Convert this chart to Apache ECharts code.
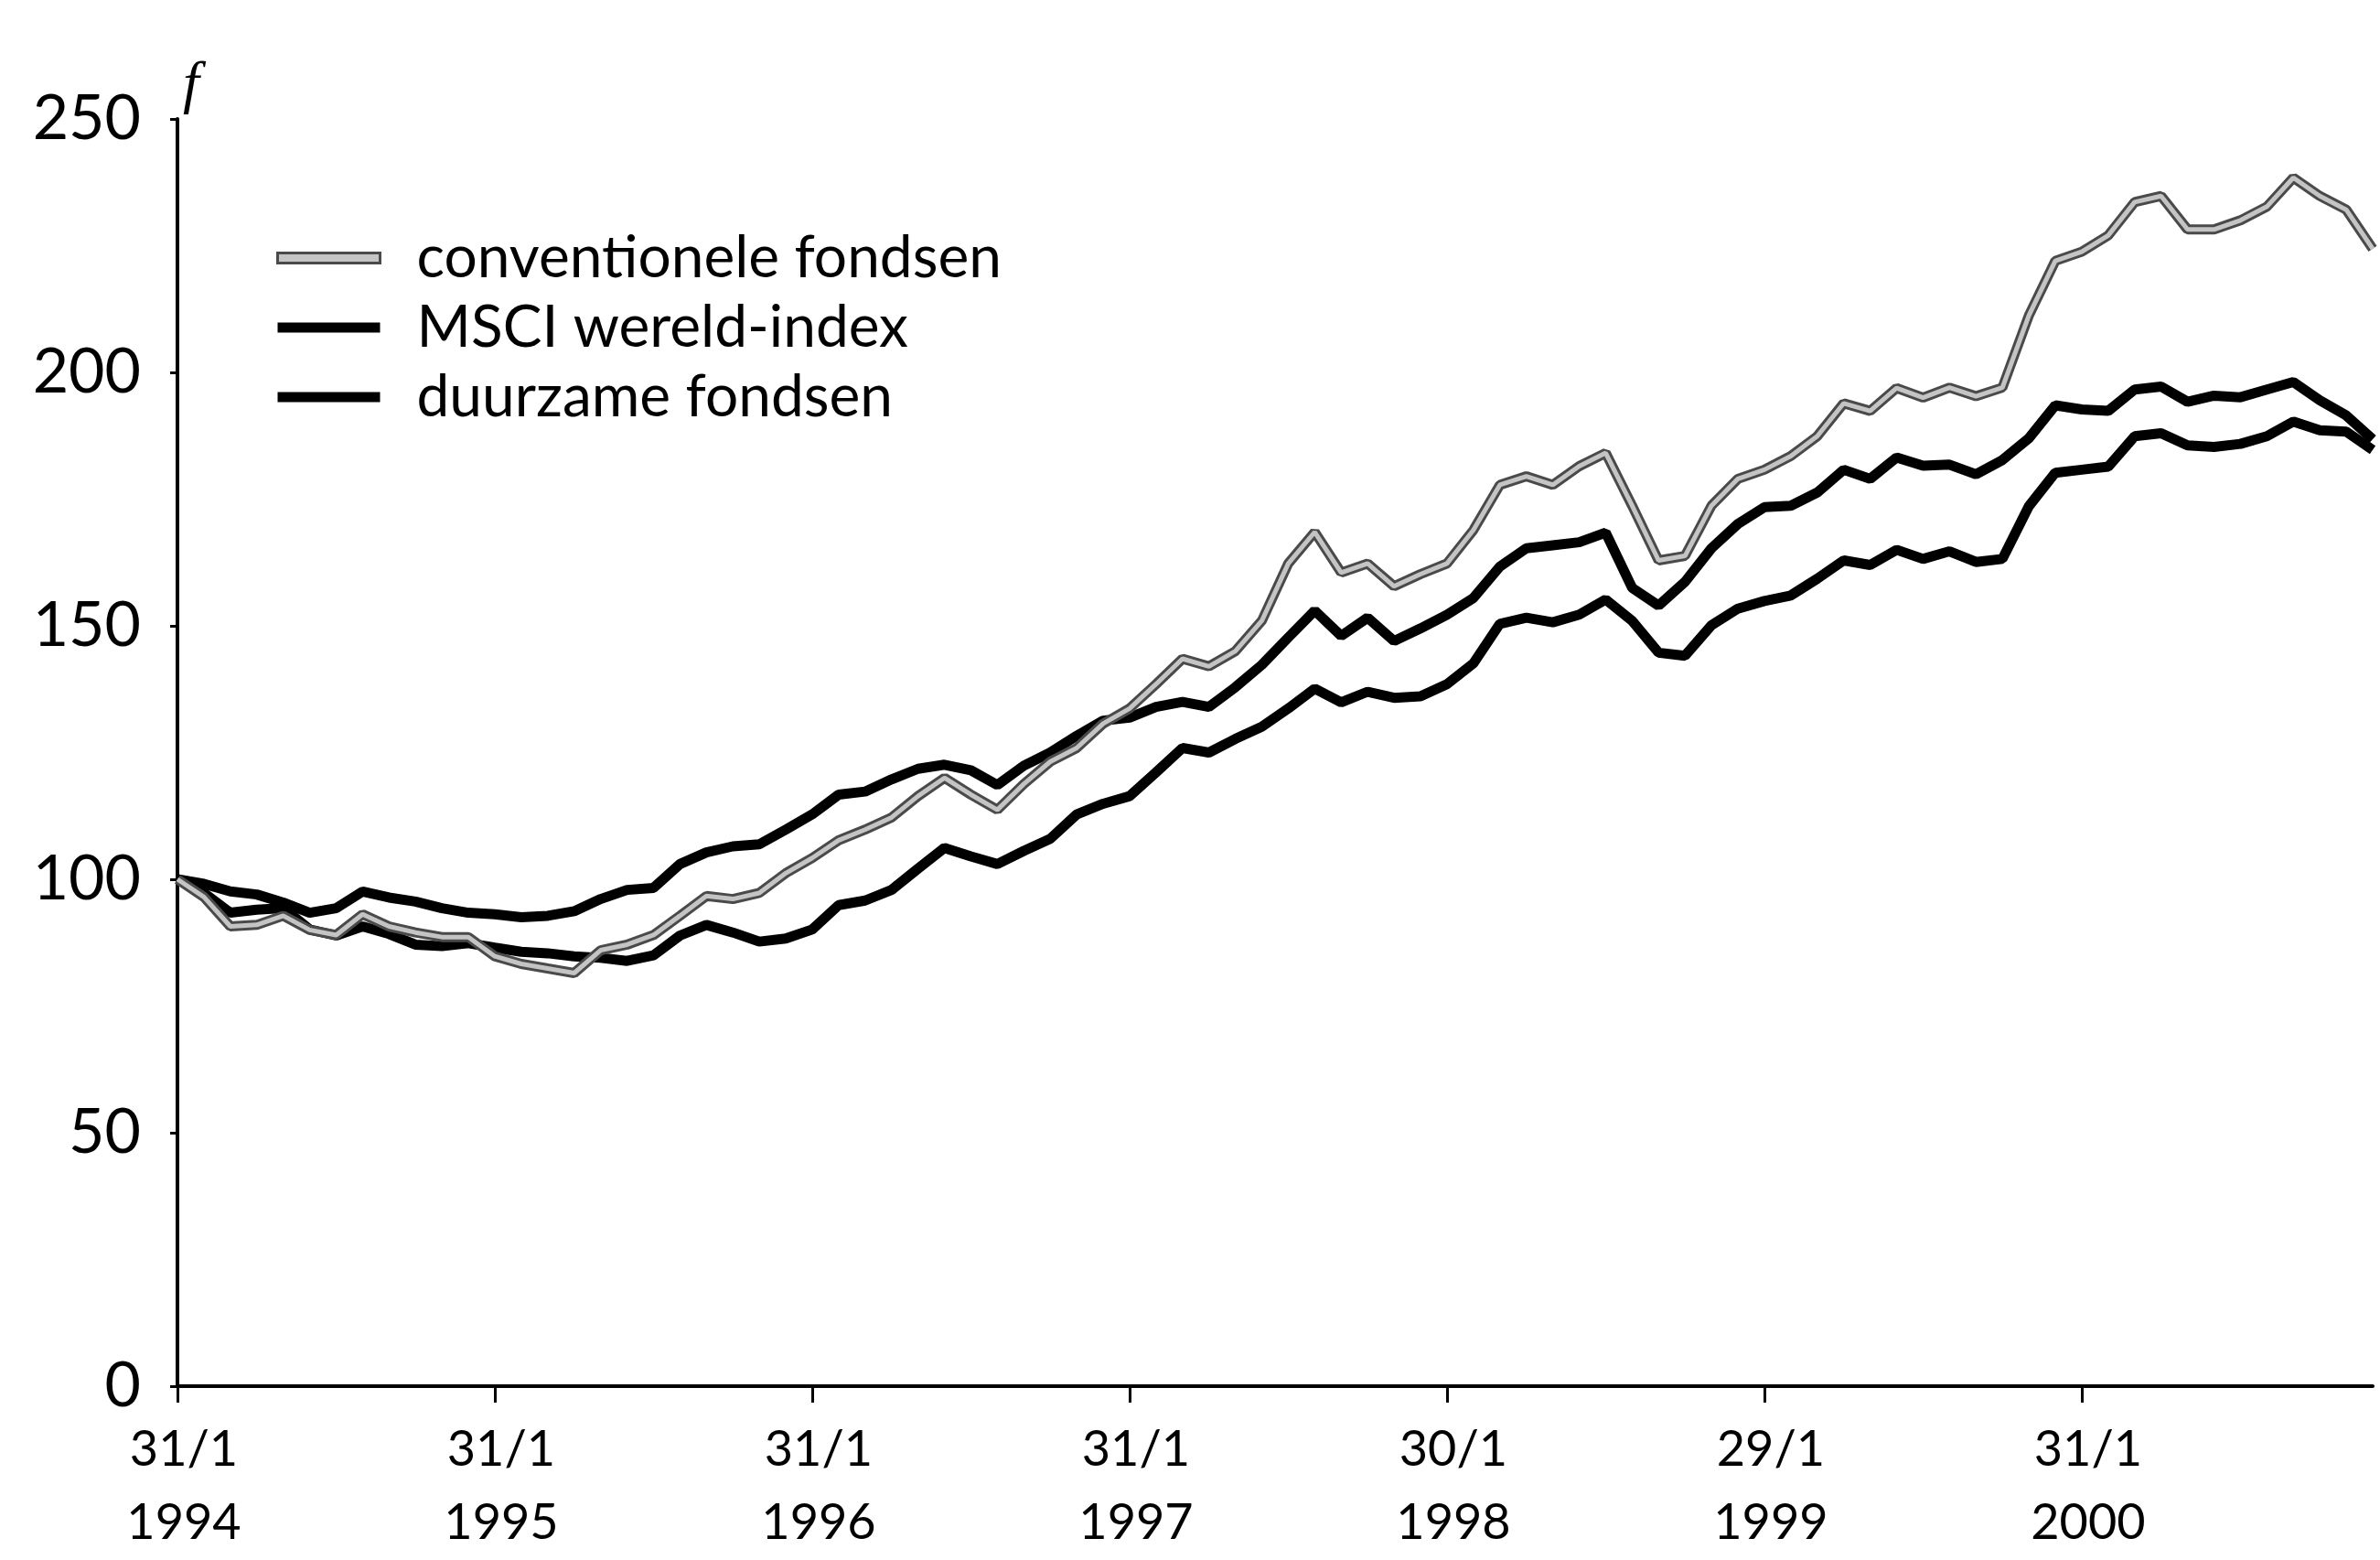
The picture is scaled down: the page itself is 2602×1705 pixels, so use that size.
<!DOCTYPE html>
<html>
<head>
<meta charset="utf-8">
<script src="https://cdn.jsdelivr.net/npm/echarts@6/dist/echarts.min.js"></script>
<style>
html,body{margin:0;padding:0;background:#fff;}
#chart{width:2602px;height:1705px;}
</style>
</head>
<body>
<div id="chart"></div>
<script>
const months = [0,1,2,3,4,5,6,7,8,9,10,11,12,13,14,15,16,17,18,19,20,21,22,23,24,25,26,27,28,29,30,31,32,33,34,35,36,37,38,39,40,41,42,43,44,45,46,47,48,49,50,51,52,53,54,55,56,57,58,59,60,61,62,63,64,65,66,67,68,69,70,71,72,73,74,75,76,77,78,79,80,81,82,83];
const conventionele = [100,96.5,90.7,91.0,92.8,90.0,89.0,93.1,90.7,89.5,88.6,88.6,84.8,83.3,82.4,81.5,86.0,87.1,89.0,92.8,96.7,96.1,97.3,101.2,104.2,107.7,109.8,112.2,116.4,120.0,116.7,113.7,118.8,123.2,125.9,130.7,133.7,138.5,143.5,142.0,145.0,151.0,162.3,168.5,160.5,162.3,157.8,160.2,162.3,168.9,177.8,179.5,177.8,181.5,184.1,173.7,162.9,163.8,173.7,179.0,180.8,183.5,187.4,193.9,192.4,196.9,195.0,197.0,195.3,197.0,211.2,222.0,223.8,227.0,233.6,234.8,228.2,228.2,230.0,232.7,238.4,234.8,232.1,224.4];
const msci = [100,99.1,97.6,97.0,95.4,93.4,94.3,97.6,96.4,95.6,94.3,93.4,93.1,92.5,92.8,93.7,96.1,97.9,98.3,103.0,105.3,106.5,106.9,109.8,112.8,116.7,117.3,119.7,121.8,122.6,121.5,118.6,122.4,125.0,128.3,131.3,131.9,134.0,135.0,134.0,137.9,142.3,147.7,153.0,148.0,151.6,147.0,149.5,152.2,155.5,161.7,165.3,165.9,166.5,168.4,157.5,154.0,158.7,165.3,170.1,173.4,173.7,176.3,180.8,179.0,183.2,181.6,181.8,179.9,182.7,187.0,193.5,192.7,192.4,196.6,197.2,194.2,195.4,195.1,196.6,198.1,194.5,191.5,186.8];
const duurzaam = [100,97.3,93.4,94.0,94.3,90.1,88.9,90.7,89.2,87.1,86.8,87.4,86.5,85.7,85.4,84.8,84.5,83.9,85.0,88.9,91.0,89.5,87.7,88.3,90.1,94.9,95.8,97.9,102.1,106.2,104.5,103.0,105.6,108.0,112.8,114.9,116.4,121.1,125.9,125.0,127.7,130.1,133.7,137.6,134.9,137.0,135.8,136.1,138.5,142.6,150.4,151.6,150.7,152.2,155.2,151.0,144.7,144.1,150.1,153.4,154.9,156.0,159.3,162.9,162.0,165.0,163.2,164.7,162.6,163.2,173.6,180.2,180.8,181.4,187.4,188.0,185.6,185.3,185.9,187.4,190.3,188.6,188.3,184.7];
const tickMonths = [0,12,24,36,48,60,72];
const tickLabels = ['31/1\n1994','31/1\n1995','31/1\n1996','31/1\n1997','30/1\n1998','29/1\n1999','31/1\n2000'];
const names = ['conventionele fondsen','MSCI wereld-index','duurzame fondsen'];

const pair = arr => months.map((m,i)=>[m, arr[i]]);
const FONT = 'Lato, "Open Sans", sans-serif';

const chart = echarts.init(document.getElementById('chart'), null, {renderer:'canvas'});
chart.setOption({
  animation:false,
  backgroundColor:'#ffffff',
  grid:{left:194, right:8, top:130, bottom:178, containLabel:false},
  legend:{
    orient:'vertical', left:302, top:249, padding:0,
    itemWidth:112, itemHeight:11, itemGap:10,
    selectedMode:false,
    textStyle:{fontFamily:FONT, fontSize:64, color:'#000', lineHeight:66, padding:[0,0,0,35]},
    data:[
      {name:names[0], icon:'rect', itemStyle:{color:'#c4c4c4', borderColor:'#4a4a4a', borderWidth:3}},
      {name:names[1], icon:'rect', itemStyle:{color:'#000'}},
      {name:names[2], icon:'rect', itemStyle:{color:'#000'}}
    ]
  },
  xAxis:{
    type:'value', min:0, max:83,
    axisLine:{show:true, onZero:false, lineStyle:{color:'#000', width:4}},
    axisTick:{show:true, length:18, lineStyle:{color:'#000', width:3}, customValues:tickMonths},
    axisLabel:{
      customValues:tickMonths,
      margin:30, fontFamily:FONT, fontSize:54, color:'#000', lineHeight:80, padding:[0,0,0,14],
      formatter:function(v){ const i = tickMonths.indexOf(Math.round(v)); return i>=0 ? tickLabels[i] : ''; }
    },
    splitLine:{show:false}
  },
  yAxis:{
    type:'value', min:0, max:250, interval:50,
    name:'f', nameLocation:'end', nameGap:4,
    nameTextStyle:{fontFamily:'"Liberation Serif", "DejaVu Serif", serif', fontStyle:'italic', fontSize:64, color:'#000', align:'left', verticalAlign:'bottom', padding:[0,0,0,6]},
    axisLine:{show:true, lineStyle:{color:'#000', width:4}},
    axisTick:{show:true, length:8, lineStyle:{color:'#000', width:3}},
    axisLabel:{margin:40, fontFamily:FONT, fontSize:68, color:'#000'},
    splitLine:{show:false}
  },
  series:[
    {name:'conventionele-rand', type:'line', data:pair(conventionele), symbol:'none', silent:true, z:3,
     lineStyle:{color:'#4a4a4a', width:11}},
    {name:names[0], type:'line', data:pair(conventionele), symbol:'none', silent:true, z:4,
     lineStyle:{color:'#c4c4c4', width:5}},
    {name:names[1], type:'line', data:pair(msci), symbol:'none', silent:true, z:2,
     lineStyle:{color:'#000', width:11}},
    {name:names[2], type:'line', data:pair(duurzaam), symbol:'none', silent:true, z:2,
     lineStyle:{color:'#000', width:11}}
  ]
});
</script>
</body>
</html>
